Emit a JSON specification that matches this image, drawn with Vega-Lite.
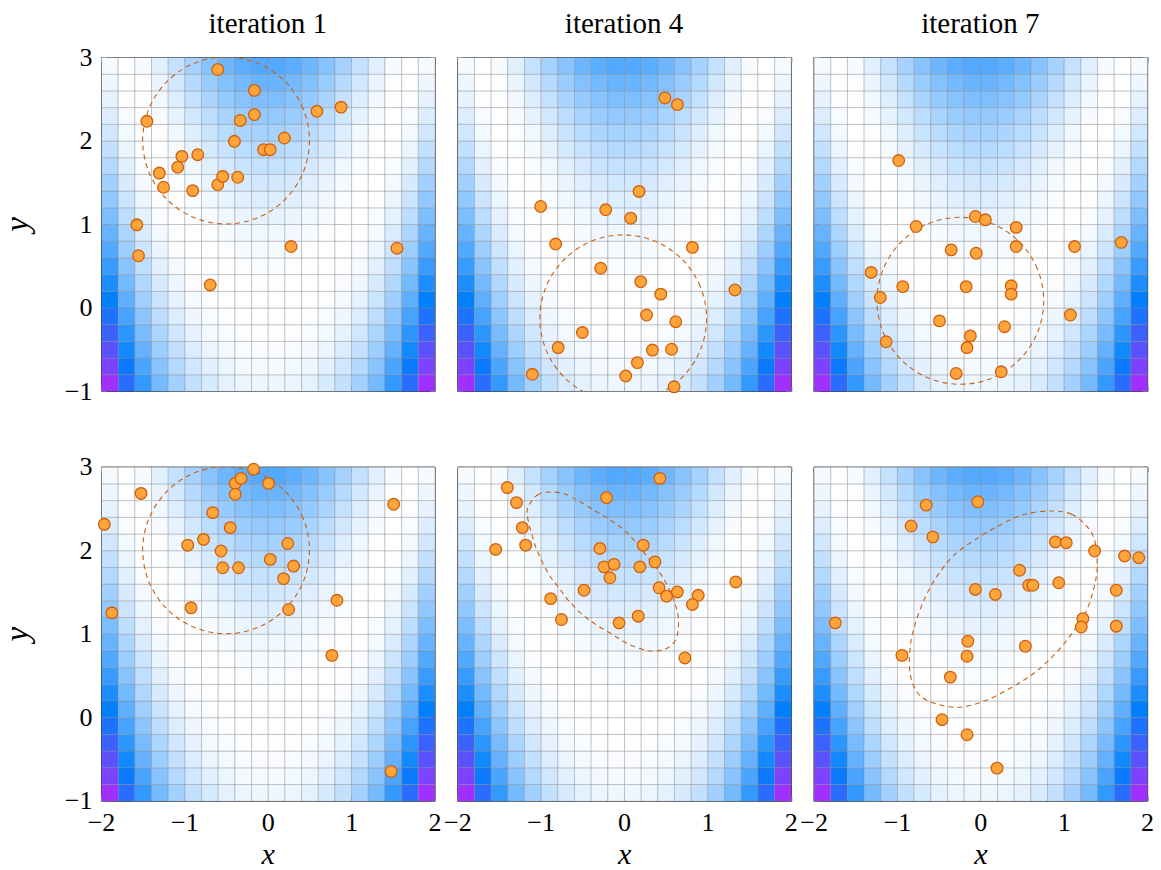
{
"$schema": "https://vega.github.io/schema/vega-lite/v6.json",
"padding": {"left": 0, "top": 9, "right": 5, "bottom": 0},
"datasets": {
"grid": [
{"x":-1.9,"y":-0.9,"v":20.34},{"x":-1.9,"y":-0.7,"v":18.58},{"x":-1.9,"y":-0.5,"v":16.89},{"x":-1.9,"y":-0.3,"v":15.29},{"x":-1.9,"y":-0.1,"v":13.76},{"x":-1.9,"y":0.1,"v":12.32},{"x":-1.9,"y":0.3,"v":10.96},{"x":-1.9,"y":0.5,"v":9.67},{"x":-1.9,"y":0.7,"v":8.47},{"x":-1.9,"y":0.9,"v":7.34},{"x":-1.9,"y":1.1,"v":6.3},{"x":-1.9,"y":1.3,"v":5.34},{"x":-1.9,"y":1.5,"v":4.45},{"x":-1.9,"y":1.7,"v":3.65},{"x":-1.9,"y":1.9,"v":2.92},{"x":-1.9,"y":2.1,"v":2.28},{"x":-1.9,"y":2.3,"v":1.72},{"x":-1.9,"y":2.5,"v":1.23},{"x":-1.9,"y":2.7,"v":0.83},{"x":-1.9,"y":2.9,"v":0.5},
{"x":-1.7,"y":-0.9,"v":14.36},{"x":-1.7,"y":-0.7,"v":12.89},{"x":-1.7,"y":-0.5,"v":11.49},{"x":-1.7,"y":-0.3,"v":10.18},{"x":-1.7,"y":-0.1,"v":8.94},{"x":-1.7,"y":0.1,"v":7.78},{"x":-1.7,"y":0.3,"v":6.71},{"x":-1.7,"y":0.5,"v":5.71},{"x":-1.7,"y":0.7,"v":4.8},{"x":-1.7,"y":0.9,"v":3.96},{"x":-1.7,"y":1.1,"v":3.2},{"x":-1.7,"y":1.3,"v":2.53},{"x":-1.7,"y":1.5,"v":1.93},{"x":-1.7,"y":1.7,"v":1.42},{"x":-1.7,"y":1.9,"v":0.98},{"x":-1.7,"y":2.1,"v":0.62},{"x":-1.7,"y":2.3,"v":0.35},{"x":-1.7,"y":2.5,"v":0.15},{"x":-1.7,"y":2.7,"v":0.04},{"x":-1.7,"y":2.9,"v":0.0},
{"x":-1.5,"y":-0.9,"v":9.92},{"x":-1.5,"y":-0.7,"v":8.7},{"x":-1.5,"y":-0.5,"v":7.56},{"x":-1.5,"y":-0.3,"v":6.5},{"x":-1.5,"y":-0.1,"v":5.52},{"x":-1.5,"y":0.1,"v":4.62},{"x":-1.5,"y":0.3,"v":3.8},{"x":-1.5,"y":0.5,"v":3.06},{"x":-1.5,"y":0.7,"v":2.4},{"x":-1.5,"y":0.9,"v":1.82},{"x":-1.5,"y":1.1,"v":1.32},{"x":-1.5,"y":1.3,"v":0.9},{"x":-1.5,"y":1.5,"v":0.56},{"x":-1.5,"y":1.7,"v":0.3},{"x":-1.5,"y":1.9,"v":0.12},{"x":-1.5,"y":2.1,"v":0.02},{"x":-1.5,"y":2.3,"v":0.0},{"x":-1.5,"y":2.5,"v":0.06},{"x":-1.5,"y":2.7,"v":0.2},{"x":-1.5,"y":2.9,"v":0.42},
{"x":-1.3,"y":-0.9,"v":6.71},{"x":-1.3,"y":-0.7,"v":5.71},{"x":-1.3,"y":-0.5,"v":4.8},{"x":-1.3,"y":-0.3,"v":3.96},{"x":-1.3,"y":-0.1,"v":3.2},{"x":-1.3,"y":0.1,"v":2.53},{"x":-1.3,"y":0.3,"v":1.93},{"x":-1.3,"y":0.5,"v":1.42},{"x":-1.3,"y":0.7,"v":0.98},{"x":-1.3,"y":0.9,"v":0.62},{"x":-1.3,"y":1.1,"v":0.35},{"x":-1.3,"y":1.3,"v":0.15},{"x":-1.3,"y":1.5,"v":0.04},{"x":-1.3,"y":1.7,"v":0.0},{"x":-1.3,"y":1.9,"v":0.04},{"x":-1.3,"y":2.1,"v":0.17},{"x":-1.3,"y":2.3,"v":0.37},{"x":-1.3,"y":2.5,"v":0.66},{"x":-1.3,"y":2.7,"v":1.02},{"x":-1.3,"y":2.9,"v":1.46},
{"x":-1.1,"y":-0.9,"v":4.45},{"x":-1.1,"y":-0.7,"v":3.65},{"x":-1.1,"y":-0.5,"v":2.92},{"x":-1.1,"y":-0.3,"v":2.28},{"x":-1.1,"y":-0.1,"v":1.72},{"x":-1.1,"y":0.1,"v":1.23},{"x":-1.1,"y":0.3,"v":0.83},{"x":-1.1,"y":0.5,"v":0.5},{"x":-1.1,"y":0.7,"v":0.26},{"x":-1.1,"y":0.9,"v":0.1},{"x":-1.1,"y":1.1,"v":0.01},{"x":-1.1,"y":1.3,"v":0.01},{"x":-1.1,"y":1.5,"v":0.08},{"x":-1.1,"y":1.7,"v":0.24},{"x":-1.1,"y":1.9,"v":0.48},{"x":-1.1,"y":2.1,"v":0.79},{"x":-1.1,"y":2.3,"v":1.19},{"x":-1.1,"y":2.5,"v":1.66},{"x":-1.1,"y":2.7,"v":2.22},{"x":-1.1,"y":2.9,"v":2.86},
{"x":-0.9,"y":-0.9,"v":2.92},{"x":-0.9,"y":-0.7,"v":2.28},{"x":-0.9,"y":-0.5,"v":1.72},{"x":-0.9,"y":-0.3,"v":1.23},{"x":-0.9,"y":-0.1,"v":0.83},{"x":-0.9,"y":0.1,"v":0.5},{"x":-0.9,"y":0.3,"v":0.26},{"x":-0.9,"y":0.5,"v":0.1},{"x":-0.9,"y":0.7,"v":0.01},{"x":-0.9,"y":0.9,"v":0.01},{"x":-0.9,"y":1.1,"v":0.08},{"x":-0.9,"y":1.3,"v":0.24},{"x":-0.9,"y":1.5,"v":0.48},{"x":-0.9,"y":1.7,"v":0.79},{"x":-0.9,"y":1.9,"v":1.19},{"x":-0.9,"y":2.1,"v":1.66},{"x":-0.9,"y":2.3,"v":2.22},{"x":-0.9,"y":2.5,"v":2.86},{"x":-0.9,"y":2.7,"v":3.57},{"x":-0.9,"y":2.9,"v":4.37},
{"x":-0.7,"y":-0.9,"v":1.93},{"x":-0.7,"y":-0.7,"v":1.42},{"x":-0.7,"y":-0.5,"v":0.98},{"x":-0.7,"y":-0.3,"v":0.62},{"x":-0.7,"y":-0.1,"v":0.35},{"x":-0.7,"y":0.1,"v":0.15},{"x":-0.7,"y":0.3,"v":0.04},{"x":-0.7,"y":0.5,"v":0.0},{"x":-0.7,"y":0.7,"v":0.04},{"x":-0.7,"y":0.9,"v":0.17},{"x":-0.7,"y":1.1,"v":0.37},{"x":-0.7,"y":1.3,"v":0.66},{"x":-0.7,"y":1.5,"v":1.02},{"x":-0.7,"y":1.7,"v":1.46},{"x":-0.7,"y":1.9,"v":1.99},{"x":-0.7,"y":2.1,"v":2.59},{"x":-0.7,"y":2.3,"v":3.28},{"x":-0.7,"y":2.5,"v":4.04},{"x":-0.7,"y":2.7,"v":4.88},{"x":-0.7,"y":2.9,"v":5.81},
{"x":-0.5,"y":-0.9,"v":1.32},{"x":-0.5,"y":-0.7,"v":0.9},{"x":-0.5,"y":-0.5,"v":0.56},{"x":-0.5,"y":-0.3,"v":0.3},{"x":-0.5,"y":-0.1,"v":0.12},{"x":-0.5,"y":0.1,"v":0.02},{"x":-0.5,"y":0.3,"v":0.0},{"x":-0.5,"y":0.5,"v":0.06},{"x":-0.5,"y":0.7,"v":0.2},{"x":-0.5,"y":0.9,"v":0.42},{"x":-0.5,"y":1.1,"v":0.72},{"x":-0.5,"y":1.3,"v":1.1},{"x":-0.5,"y":1.5,"v":1.56},{"x":-0.5,"y":1.7,"v":2.1},{"x":-0.5,"y":1.9,"v":2.72},{"x":-0.5,"y":2.1,"v":3.42},{"x":-0.5,"y":2.3,"v":4.2},{"x":-0.5,"y":2.5,"v":5.06},{"x":-0.5,"y":2.7,"v":6.0},{"x":-0.5,"y":2.9,"v":7.02},
{"x":-0.3,"y":-0.9,"v":0.98},{"x":-0.3,"y":-0.7,"v":0.62},{"x":-0.3,"y":-0.5,"v":0.35},{"x":-0.3,"y":-0.3,"v":0.15},{"x":-0.3,"y":-0.1,"v":0.04},{"x":-0.3,"y":0.1,"v":0.0},{"x":-0.3,"y":0.3,"v":0.04},{"x":-0.3,"y":0.5,"v":0.17},{"x":-0.3,"y":0.7,"v":0.37},{"x":-0.3,"y":0.9,"v":0.66},{"x":-0.3,"y":1.1,"v":1.02},{"x":-0.3,"y":1.3,"v":1.46},{"x":-0.3,"y":1.5,"v":1.99},{"x":-0.3,"y":1.7,"v":2.59},{"x":-0.3,"y":1.9,"v":3.28},{"x":-0.3,"y":2.1,"v":4.04},{"x":-0.3,"y":2.3,"v":4.88},{"x":-0.3,"y":2.5,"v":5.81},{"x":-0.3,"y":2.7,"v":6.81},{"x":-0.3,"y":2.9,"v":7.9},
{"x":-0.1,"y":-0.9,"v":0.83},{"x":-0.1,"y":-0.7,"v":0.5},{"x":-0.1,"y":-0.5,"v":0.26},{"x":-0.1,"y":-0.3,"v":0.1},{"x":-0.1,"y":-0.1,"v":0.01},{"x":-0.1,"y":0.1,"v":0.01},{"x":-0.1,"y":0.3,"v":0.08},{"x":-0.1,"y":0.5,"v":0.24},{"x":-0.1,"y":0.7,"v":0.48},{"x":-0.1,"y":0.9,"v":0.79},{"x":-0.1,"y":1.1,"v":1.19},{"x":-0.1,"y":1.3,"v":1.66},{"x":-0.1,"y":1.5,"v":2.22},{"x":-0.1,"y":1.7,"v":2.86},{"x":-0.1,"y":1.9,"v":3.57},{"x":-0.1,"y":2.1,"v":4.37},{"x":-0.1,"y":2.3,"v":5.24},{"x":-0.1,"y":2.5,"v":6.2},{"x":-0.1,"y":2.7,"v":7.24},{"x":-0.1,"y":2.9,"v":8.35},
{"x":0.1,"y":-0.9,"v":0.83},{"x":0.1,"y":-0.7,"v":0.5},{"x":0.1,"y":-0.5,"v":0.26},{"x":0.1,"y":-0.3,"v":0.1},{"x":0.1,"y":-0.1,"v":0.01},{"x":0.1,"y":0.1,"v":0.01},{"x":0.1,"y":0.3,"v":0.08},{"x":0.1,"y":0.5,"v":0.24},{"x":0.1,"y":0.7,"v":0.48},{"x":0.1,"y":0.9,"v":0.79},{"x":0.1,"y":1.1,"v":1.19},{"x":0.1,"y":1.3,"v":1.66},{"x":0.1,"y":1.5,"v":2.22},{"x":0.1,"y":1.7,"v":2.86},{"x":0.1,"y":1.9,"v":3.57},{"x":0.1,"y":2.1,"v":4.37},{"x":0.1,"y":2.3,"v":5.24},{"x":0.1,"y":2.5,"v":6.2},{"x":0.1,"y":2.7,"v":7.24},{"x":0.1,"y":2.9,"v":8.35},
{"x":0.3,"y":-0.9,"v":0.98},{"x":0.3,"y":-0.7,"v":0.62},{"x":0.3,"y":-0.5,"v":0.35},{"x":0.3,"y":-0.3,"v":0.15},{"x":0.3,"y":-0.1,"v":0.04},{"x":0.3,"y":0.1,"v":0.0},{"x":0.3,"y":0.3,"v":0.04},{"x":0.3,"y":0.5,"v":0.17},{"x":0.3,"y":0.7,"v":0.37},{"x":0.3,"y":0.9,"v":0.66},{"x":0.3,"y":1.1,"v":1.02},{"x":0.3,"y":1.3,"v":1.46},{"x":0.3,"y":1.5,"v":1.99},{"x":0.3,"y":1.7,"v":2.59},{"x":0.3,"y":1.9,"v":3.28},{"x":0.3,"y":2.1,"v":4.04},{"x":0.3,"y":2.3,"v":4.88},{"x":0.3,"y":2.5,"v":5.81},{"x":0.3,"y":2.7,"v":6.81},{"x":0.3,"y":2.9,"v":7.9},
{"x":0.5,"y":-0.9,"v":1.32},{"x":0.5,"y":-0.7,"v":0.9},{"x":0.5,"y":-0.5,"v":0.56},{"x":0.5,"y":-0.3,"v":0.3},{"x":0.5,"y":-0.1,"v":0.12},{"x":0.5,"y":0.1,"v":0.02},{"x":0.5,"y":0.3,"v":0.0},{"x":0.5,"y":0.5,"v":0.06},{"x":0.5,"y":0.7,"v":0.2},{"x":0.5,"y":0.9,"v":0.42},{"x":0.5,"y":1.1,"v":0.72},{"x":0.5,"y":1.3,"v":1.1},{"x":0.5,"y":1.5,"v":1.56},{"x":0.5,"y":1.7,"v":2.1},{"x":0.5,"y":1.9,"v":2.72},{"x":0.5,"y":2.1,"v":3.42},{"x":0.5,"y":2.3,"v":4.2},{"x":0.5,"y":2.5,"v":5.06},{"x":0.5,"y":2.7,"v":6.0},{"x":0.5,"y":2.9,"v":7.02},
{"x":0.7,"y":-0.9,"v":1.93},{"x":0.7,"y":-0.7,"v":1.42},{"x":0.7,"y":-0.5,"v":0.98},{"x":0.7,"y":-0.3,"v":0.62},{"x":0.7,"y":-0.1,"v":0.35},{"x":0.7,"y":0.1,"v":0.15},{"x":0.7,"y":0.3,"v":0.04},{"x":0.7,"y":0.5,"v":0.0},{"x":0.7,"y":0.7,"v":0.04},{"x":0.7,"y":0.9,"v":0.17},{"x":0.7,"y":1.1,"v":0.37},{"x":0.7,"y":1.3,"v":0.66},{"x":0.7,"y":1.5,"v":1.02},{"x":0.7,"y":1.7,"v":1.46},{"x":0.7,"y":1.9,"v":1.99},{"x":0.7,"y":2.1,"v":2.59},{"x":0.7,"y":2.3,"v":3.28},{"x":0.7,"y":2.5,"v":4.04},{"x":0.7,"y":2.7,"v":4.88},{"x":0.7,"y":2.9,"v":5.81},
{"x":0.9,"y":-0.9,"v":2.92},{"x":0.9,"y":-0.7,"v":2.28},{"x":0.9,"y":-0.5,"v":1.72},{"x":0.9,"y":-0.3,"v":1.23},{"x":0.9,"y":-0.1,"v":0.83},{"x":0.9,"y":0.1,"v":0.5},{"x":0.9,"y":0.3,"v":0.26},{"x":0.9,"y":0.5,"v":0.1},{"x":0.9,"y":0.7,"v":0.01},{"x":0.9,"y":0.9,"v":0.01},{"x":0.9,"y":1.1,"v":0.08},{"x":0.9,"y":1.3,"v":0.24},{"x":0.9,"y":1.5,"v":0.48},{"x":0.9,"y":1.7,"v":0.79},{"x":0.9,"y":1.9,"v":1.19},{"x":0.9,"y":2.1,"v":1.66},{"x":0.9,"y":2.3,"v":2.22},{"x":0.9,"y":2.5,"v":2.86},{"x":0.9,"y":2.7,"v":3.57},{"x":0.9,"y":2.9,"v":4.37},
{"x":1.1,"y":-0.9,"v":4.45},{"x":1.1,"y":-0.7,"v":3.65},{"x":1.1,"y":-0.5,"v":2.92},{"x":1.1,"y":-0.3,"v":2.28},{"x":1.1,"y":-0.1,"v":1.72},{"x":1.1,"y":0.1,"v":1.23},{"x":1.1,"y":0.3,"v":0.83},{"x":1.1,"y":0.5,"v":0.5},{"x":1.1,"y":0.7,"v":0.26},{"x":1.1,"y":0.9,"v":0.1},{"x":1.1,"y":1.1,"v":0.01},{"x":1.1,"y":1.3,"v":0.01},{"x":1.1,"y":1.5,"v":0.08},{"x":1.1,"y":1.7,"v":0.24},{"x":1.1,"y":1.9,"v":0.48},{"x":1.1,"y":2.1,"v":0.79},{"x":1.1,"y":2.3,"v":1.19},{"x":1.1,"y":2.5,"v":1.66},{"x":1.1,"y":2.7,"v":2.22},{"x":1.1,"y":2.9,"v":2.86},
{"x":1.3,"y":-0.9,"v":6.71},{"x":1.3,"y":-0.7,"v":5.71},{"x":1.3,"y":-0.5,"v":4.8},{"x":1.3,"y":-0.3,"v":3.96},{"x":1.3,"y":-0.1,"v":3.2},{"x":1.3,"y":0.1,"v":2.53},{"x":1.3,"y":0.3,"v":1.93},{"x":1.3,"y":0.5,"v":1.42},{"x":1.3,"y":0.7,"v":0.98},{"x":1.3,"y":0.9,"v":0.62},{"x":1.3,"y":1.1,"v":0.35},{"x":1.3,"y":1.3,"v":0.15},{"x":1.3,"y":1.5,"v":0.04},{"x":1.3,"y":1.7,"v":0.0},{"x":1.3,"y":1.9,"v":0.04},{"x":1.3,"y":2.1,"v":0.17},{"x":1.3,"y":2.3,"v":0.37},{"x":1.3,"y":2.5,"v":0.66},{"x":1.3,"y":2.7,"v":1.02},{"x":1.3,"y":2.9,"v":1.46},
{"x":1.5,"y":-0.9,"v":9.92},{"x":1.5,"y":-0.7,"v":8.7},{"x":1.5,"y":-0.5,"v":7.56},{"x":1.5,"y":-0.3,"v":6.5},{"x":1.5,"y":-0.1,"v":5.52},{"x":1.5,"y":0.1,"v":4.62},{"x":1.5,"y":0.3,"v":3.8},{"x":1.5,"y":0.5,"v":3.06},{"x":1.5,"y":0.7,"v":2.4},{"x":1.5,"y":0.9,"v":1.82},{"x":1.5,"y":1.1,"v":1.32},{"x":1.5,"y":1.3,"v":0.9},{"x":1.5,"y":1.5,"v":0.56},{"x":1.5,"y":1.7,"v":0.3},{"x":1.5,"y":1.9,"v":0.12},{"x":1.5,"y":2.1,"v":0.02},{"x":1.5,"y":2.3,"v":0.0},{"x":1.5,"y":2.5,"v":0.06},{"x":1.5,"y":2.7,"v":0.2},{"x":1.5,"y":2.9,"v":0.42},
{"x":1.7,"y":-0.9,"v":14.36},{"x":1.7,"y":-0.7,"v":12.89},{"x":1.7,"y":-0.5,"v":11.49},{"x":1.7,"y":-0.3,"v":10.18},{"x":1.7,"y":-0.1,"v":8.94},{"x":1.7,"y":0.1,"v":7.78},{"x":1.7,"y":0.3,"v":6.71},{"x":1.7,"y":0.5,"v":5.71},{"x":1.7,"y":0.7,"v":4.8},{"x":1.7,"y":0.9,"v":3.96},{"x":1.7,"y":1.1,"v":3.2},{"x":1.7,"y":1.3,"v":2.53},{"x":1.7,"y":1.5,"v":1.93},{"x":1.7,"y":1.7,"v":1.42},{"x":1.7,"y":1.9,"v":0.98},{"x":1.7,"y":2.1,"v":0.62},{"x":1.7,"y":2.3,"v":0.35},{"x":1.7,"y":2.5,"v":0.15},{"x":1.7,"y":2.7,"v":0.04},{"x":1.7,"y":2.9,"v":0.0},
{"x":1.9,"y":-0.9,"v":20.34},{"x":1.9,"y":-0.7,"v":18.58},{"x":1.9,"y":-0.5,"v":16.89},{"x":1.9,"y":-0.3,"v":15.29},{"x":1.9,"y":-0.1,"v":13.76},{"x":1.9,"y":0.1,"v":12.32},{"x":1.9,"y":0.3,"v":10.96},{"x":1.9,"y":0.5,"v":9.67},{"x":1.9,"y":0.7,"v":8.47},{"x":1.9,"y":0.9,"v":7.34},{"x":1.9,"y":1.1,"v":6.3},{"x":1.9,"y":1.3,"v":5.34},{"x":1.9,"y":1.5,"v":4.45},{"x":1.9,"y":1.7,"v":3.65},{"x":1.9,"y":1.9,"v":2.92},{"x":1.9,"y":2.1,"v":2.28},{"x":1.9,"y":2.3,"v":1.72},{"x":1.9,"y":2.5,"v":1.23},{"x":1.9,"y":2.7,"v":0.83},{"x":1.9,"y":2.9,"v":0.5}
],
"p1": [{"x":-0.6,"y":2.85},{"x":-0.16,"y":2.6},{"x":0.59,"y":2.35},{"x":0.88,"y":2.4},{"x":-1.45,"y":2.23},{"x":-0.33,"y":2.24},{"x":-0.16,"y":2.31},{"x":-0.4,"y":1.99},{"x":0.2,"y":2.03},{"x":-0.05,"y":1.89},{"x":0.03,"y":1.89},{"x":-1.03,"y":1.81},{"x":-0.84,"y":1.83},{"x":-1.08,"y":1.68},{"x":-1.3,"y":1.61},{"x":-1.25,"y":1.44},{"x":-0.9,"y":1.4},{"x":-0.6,"y":1.47},{"x":-0.54,"y":1.57},{"x":-0.36,"y":1.56},{"x":-1.57,"y":0.99},{"x":-1.55,"y":0.62},{"x":0.28,"y":0.73},{"x":1.55,"y":0.71},{"x":-0.69,"y":0.27}],
"p2": [{"x":0.49,"y":2.51},{"x":0.64,"y":2.43},{"x":0.18,"y":1.39},{"x":-1.0,"y":1.21},{"x":-0.22,"y":1.17},{"x":0.08,"y":1.07},{"x":-0.82,"y":0.76},{"x":0.82,"y":0.72},{"x":-0.28,"y":0.47},{"x":0.2,"y":0.31},{"x":0.44,"y":0.16},{"x":1.33,"y":0.21},{"x":0.27,"y":-0.09},{"x":0.62,"y":-0.17},{"x":-0.5,"y":-0.3},{"x":-0.79,"y":-0.48},{"x":0.34,"y":-0.51},{"x":0.57,"y":-0.5},{"x":0.16,"y":-0.66},{"x":-1.1,"y":-0.8},{"x":0.02,"y":-0.82},{"x":0.6,"y":-0.95}],
"p3": [{"x":-0.98,"y":1.76},{"x":-0.06,"y":1.09},{"x":0.06,"y":1.05},{"x":0.43,"y":0.96},{"x":-0.77,"y":0.97},{"x":0.43,"y":0.73},{"x":1.13,"y":0.73},{"x":1.69,"y":0.78},{"x":-0.35,"y":0.69},{"x":-0.05,"y":0.65},{"x":-1.31,"y":0.42},{"x":-0.93,"y":0.25},{"x":-0.17,"y":0.25},{"x":0.37,"y":0.26},{"x":0.37,"y":0.16},{"x":-1.2,"y":0.12},{"x":1.08,"y":-0.09},{"x":-0.49,"y":-0.16},{"x":0.29,"y":-0.23},{"x":-0.12,"y":-0.34},{"x":-0.16,"y":-0.48},{"x":-1.13,"y":-0.41},{"x":-0.29,"y":-0.79},{"x":0.25,"y":-0.77}],
"p4": [{"x":-0.17,"y":2.97},{"x":-0.39,"y":2.8},{"x":-0.32,"y":2.86},{"x":0.01,"y":2.8},{"x":-0.39,"y":2.67},{"x":-1.52,"y":2.68},{"x":1.51,"y":2.55},{"x":-1.96,"y":2.31},{"x":-0.66,"y":2.45},{"x":-0.45,"y":2.27},{"x":-0.77,"y":2.13},{"x":-0.96,"y":2.06},{"x":-0.56,"y":1.99},{"x":0.24,"y":2.08},{"x":0.03,"y":1.89},{"x":0.31,"y":1.81},{"x":-0.54,"y":1.79},{"x":-0.35,"y":1.79},{"x":0.19,"y":1.66},{"x":-1.87,"y":1.25},{"x":-0.92,"y":1.31},{"x":0.25,"y":1.29},{"x":0.83,"y":1.4},{"x":0.77,"y":0.74},{"x":1.48,"y":-0.65}],
"p5": [{"x":0.43,"y":2.86},{"x":-1.4,"y":2.75},{"x":-1.29,"y":2.57},{"x":-0.21,"y":2.63},{"x":-1.22,"y":2.27},{"x":-1.54,"y":2.01},{"x":-1.18,"y":2.06},{"x":-0.29,"y":2.02},{"x":0.23,"y":2.06},{"x":0.37,"y":1.86},{"x":-0.24,"y":1.8},{"x":-0.12,"y":1.83},{"x":0.19,"y":1.8},{"x":-0.17,"y":1.67},{"x":1.34,"y":1.62},{"x":-0.48,"y":1.52},{"x":-0.88,"y":1.42},{"x":0.42,"y":1.55},{"x":0.51,"y":1.45},{"x":0.64,"y":1.5},{"x":0.89,"y":1.46},{"x":0.82,"y":1.35},{"x":-0.75,"y":1.17},{"x":-0.06,"y":1.13},{"x":0.17,"y":1.21},{"x":0.73,"y":0.71}],
"p6": [{"x":-0.65,"y":2.54},{"x":-0.03,"y":2.58},{"x":-0.83,"y":2.29},{"x":-0.57,"y":2.16},{"x":0.9,"y":2.1},{"x":1.03,"y":2.09},{"x":1.37,"y":1.99},{"x":1.73,"y":1.93},{"x":1.9,"y":1.91},{"x":0.47,"y":1.76},{"x":0.58,"y":1.58},{"x":0.63,"y":1.58},{"x":0.94,"y":1.61},{"x":1.63,"y":1.52},{"x":-0.06,"y":1.53},{"x":0.18,"y":1.47},{"x":-1.74,"y":1.13},{"x":1.23,"y":1.18},{"x":1.21,"y":1.08},{"x":1.63,"y":1.09},{"x":-0.15,"y":0.91},{"x":-0.94,"y":0.74},{"x":-0.16,"y":0.73},{"x":0.54,"y":0.85},{"x":-0.36,"y":0.48},{"x":-0.46,"y":-0.03},{"x":-0.16,"y":-0.21},{"x":0.2,"y":-0.61}],
"e1": [{"i":0,"x":0.5,"y":2},{"i":1,"x":0.424,"y":2.383},{"i":2,"x":0.207,"y":2.707},{"i":3,"x":-0.117,"y":2.924},{"i":4,"x":-0.5,"y":3},{"i":5,"x":-0.883,"y":2.924},{"i":6,"x":-1.207,"y":2.707},{"i":7,"x":-1.424,"y":2.383},{"i":8,"x":-1.5,"y":2},{"i":9,"x":-1.424,"y":1.617},{"i":10,"x":-1.207,"y":1.293},{"i":11,"x":-0.883,"y":1.076},{"i":12,"x":-0.5,"y":1},{"i":13,"x":-0.117,"y":1.076},{"i":14,"x":0.207,"y":1.293},{"i":15,"x":0.424,"y":1.617}],
"e2": [{"i":0,"x":0.99,"y":-0.13},{"i":1,"x":0.914,"y":0.253},{"i":2,"x":0.697,"y":0.577},{"i":3,"x":0.373,"y":0.794},{"i":4,"x":-0.01,"y":0.87},{"i":5,"x":-0.393,"y":0.794},{"i":6,"x":-0.717,"y":0.577},{"i":7,"x":-0.934,"y":0.253},{"i":8,"x":-1.01,"y":-0.13},{"i":9,"x":-0.934,"y":-0.513},{"i":10,"x":-0.717,"y":-0.837},{"i":11,"x":-0.393,"y":-1.054},{"i":12,"x":-0.01,"y":-1.13},{"i":13,"x":0.373,"y":-1.054},{"i":14,"x":0.697,"y":-0.837},{"i":15,"x":0.914,"y":-0.513}],
"e3": [{"i":0,"x":0.76,"y":0.08},{"i":1,"x":0.684,"y":0.463},{"i":2,"x":0.467,"y":0.787},{"i":3,"x":0.143,"y":1.004},{"i":4,"x":-0.24,"y":1.08},{"i":5,"x":-0.623,"y":1.004},{"i":6,"x":-0.947,"y":0.787},{"i":7,"x":-1.164,"y":0.463},{"i":8,"x":-1.24,"y":0.08},{"i":9,"x":-1.164,"y":-0.303},{"i":10,"x":-0.947,"y":-0.627},{"i":11,"x":-0.623,"y":-0.844},{"i":12,"x":-0.24,"y":-0.92},{"i":13,"x":0.143,"y":-0.844},{"i":14,"x":0.467,"y":-0.627},{"i":15,"x":0.684,"y":-0.303}],
"e5": [{"i":0,"x":-0.876,"y":2.697},{"i":1,"x":-1.023,"y":2.67},{"i":2,"x":-1.122,"y":2.569},{"i":3,"x":-1.163,"y":2.431},{"i":4,"x":-1.083,"y":2.111},{"i":5,"x":-1.023,"y":1.952},{"i":6,"x":-0.903,"y":1.713},{"i":7,"x":-0.783,"y":1.553},{"i":8,"x":-0.664,"y":1.394},{"i":9,"x":-0.505,"y":1.234},{"i":10,"x":-0.345,"y":1.115},{"i":11,"x":-0.146,"y":0.995},{"i":12,"x":0.054,"y":0.876},{"i":13,"x":0.293,"y":0.795},{"i":14,"x":0.493,"y":0.816},{"i":15,"x":0.612,"y":0.915},{"i":16,"x":0.652,"y":1.074},{"i":17,"x":0.644,"y":1.234},{"i":18,"x":0.612,"y":1.354},{"i":19,"x":0.532,"y":1.553},{"i":20,"x":0.413,"y":1.752},{"i":21,"x":0.254,"y":1.952},{"i":22,"x":0.054,"y":2.191},{"i":23,"x":-0.146,"y":2.35},{"i":24,"x":-0.345,"y":2.47},{"i":25,"x":-0.544,"y":2.59},{"i":26,"x":-0.703,"y":2.67}],
"e6": [{"i":0,"x":0.854,"y":2.47},{"i":1,"x":1.093,"y":2.431},{"i":2,"x":1.273,"y":2.291},{"i":3,"x":1.373,"y":2.111},{"i":4,"x":1.401,"y":1.792},{"i":5,"x":1.353,"y":1.513},{"i":6,"x":1.253,"y":1.234},{"i":7,"x":1.093,"y":0.995},{"i":8,"x":0.894,"y":0.756},{"i":9,"x":0.655,"y":0.536},{"i":10,"x":0.375,"y":0.356},{"i":11,"x":0.056,"y":0.197},{"i":12,"x":-0.263,"y":0.117},{"i":13,"x":-0.543,"y":0.165},{"i":14,"x":-0.743,"y":0.278},{"i":15,"x":-0.842,"y":0.517},{"i":16,"x":-0.842,"y":0.835},{"i":17,"x":-0.782,"y":1.115},{"i":18,"x":-0.662,"y":1.433},{"i":19,"x":-0.503,"y":1.713},{"i":20,"x":-0.303,"y":1.952},{"i":21,"x":-0.024,"y":2.151},{"i":22,"x":0.255,"y":2.311},{"i":23,"x":0.535,"y":2.431}]
},
"columns": 3,
"spacing": {"row": 75.7, "column": 22.3},
"bounds": "flush",
"concat": [
{"width": 333.5, "height": 334, "title": {"text": "iteration 1", "offset": 5}, "resolve": {"axis": {"x": "independent", "y": "independent"}},
 "layer": [
  {"data": {"name": "grid"}, "mark": {"type": "rect", "stroke": "#808080", "strokeOpacity": 0.35, "strokeWidth": 1},
   "encoding": {
    "x": {"field": "x", "type": "quantitative", "bin": {"step": 0.2, "extent": [-2, 2]}, "scale": {"domain": [-2, 2], "nice": false}, "axis": {"orient": "bottom", "values": [-2, -1, 0, 1, 2], "labels": false, "title": null}},
    "y": {"field": "y", "type": "quantitative", "bin": {"step": 0.2, "extent": [-1, 3]}, "scale": {"domain": [-1, 3], "nice": false}, "axis": {"orient": "left", "values": [-1, 0, 1, 2, 3], "format": "d", "title": "y"}},
    "color": {"field": "v", "type": "quantitative", "scale": {"domain": [0, 12.32, 20.34], "range": ["#ffffff", "#0080ff", "#a030ff"], "interpolate": "rgb"}, "legend": null}}},
  {"data": {"name": "e1"}, "mark": {"type": "line", "interpolate": "cardinal-closed", "color": "#c8600e", "strokeWidth": 1.1, "strokeDash": [5, 4], "clip": true},
   "encoding": {"x": {"field": "x", "type": "quantitative", "scale": {"domain": [-2, 2], "nice": false}, "axis": null}, "y": {"field": "y", "type": "quantitative", "scale": {"domain": [-1, 3], "nice": false}, "axis": null}, "order": {"field": "i", "type": "quantitative"}}},
  {"data": {"name": "p1"}, "mark": {"type": "point", "shape": "circle", "filled": true, "fill": "#ffa53c", "stroke": "#d0600c", "strokeWidth": 1.3, "size": 135, "opacity": 1},
   "encoding": {"x": {"field": "x", "type": "quantitative", "scale": {"domain": [-2, 2], "nice": false}, "axis": {"orient": "top", "values": [-2, -1, 0, 1, 2], "labels": false, "title": null}}, "y": {"field": "y", "type": "quantitative", "scale": {"domain": [-1, 3], "nice": false}, "axis": {"orient": "right", "values": [-1, 0, 1, 2, 3], "labels": false, "title": null}}}}
 ]},
{"width": 333.5, "height": 334, "title": "iteration 4", "resolve": {"axis": {"x": "independent", "y": "independent"}},
 "layer": [
  {"data": {"name": "grid"}, "mark": {"type": "rect", "stroke": "#808080", "strokeOpacity": 0.35, "strokeWidth": 1},
   "encoding": {
    "x": {"field": "x", "type": "quantitative", "bin": {"step": 0.2, "extent": [-2, 2]}, "scale": {"domain": [-2, 2], "nice": false}, "axis": {"orient": "bottom", "values": [-2, -1, 0, 1, 2], "labels": false, "title": null}},
    "y": {"field": "y", "type": "quantitative", "bin": {"step": 0.2, "extent": [-1, 3]}, "scale": {"domain": [-1, 3], "nice": false}, "axis": {"orient": "left", "values": [-1, 0, 1, 2, 3], "labels": false, "title": null}},
    "color": {"field": "v", "type": "quantitative", "scale": {"domain": [0, 12.32, 20.34], "range": ["#ffffff", "#0080ff", "#a030ff"], "interpolate": "rgb"}, "legend": null}}},
  {"data": {"name": "e2"}, "mark": {"type": "line", "interpolate": "cardinal-closed", "color": "#c8600e", "strokeWidth": 1.1, "strokeDash": [5, 4], "clip": true},
   "encoding": {"x": {"field": "x", "type": "quantitative", "scale": {"domain": [-2, 2], "nice": false}, "axis": null}, "y": {"field": "y", "type": "quantitative", "scale": {"domain": [-1, 3], "nice": false}, "axis": null}, "order": {"field": "i", "type": "quantitative"}}},
  {"data": {"name": "p2"}, "mark": {"type": "point", "shape": "circle", "filled": true, "fill": "#ffa53c", "stroke": "#d0600c", "strokeWidth": 1.3, "size": 135, "opacity": 1},
   "encoding": {"x": {"field": "x", "type": "quantitative", "scale": {"domain": [-2, 2], "nice": false}, "axis": {"orient": "top", "values": [-2, -1, 0, 1, 2], "labels": false, "title": null}}, "y": {"field": "y", "type": "quantitative", "scale": {"domain": [-1, 3], "nice": false}, "axis": {"orient": "right", "values": [-1, 0, 1, 2, 3], "labels": false, "title": null}}}}
 ]},
{"width": 333.5, "height": 334, "title": "iteration 7", "resolve": {"axis": {"x": "independent", "y": "independent"}},
 "layer": [
  {"data": {"name": "grid"}, "mark": {"type": "rect", "stroke": "#808080", "strokeOpacity": 0.35, "strokeWidth": 1},
   "encoding": {
    "x": {"field": "x", "type": "quantitative", "bin": {"step": 0.2, "extent": [-2, 2]}, "scale": {"domain": [-2, 2], "nice": false}, "axis": {"orient": "bottom", "values": [-2, -1, 0, 1, 2], "labels": false, "title": null}},
    "y": {"field": "y", "type": "quantitative", "bin": {"step": 0.2, "extent": [-1, 3]}, "scale": {"domain": [-1, 3], "nice": false}, "axis": {"orient": "left", "values": [-1, 0, 1, 2, 3], "labels": false, "title": null}},
    "color": {"field": "v", "type": "quantitative", "scale": {"domain": [0, 12.32, 20.34], "range": ["#ffffff", "#0080ff", "#a030ff"], "interpolate": "rgb"}, "legend": null}}},
  {"data": {"name": "e3"}, "mark": {"type": "line", "interpolate": "cardinal-closed", "color": "#c8600e", "strokeWidth": 1.1, "strokeDash": [5, 4], "clip": true},
   "encoding": {"x": {"field": "x", "type": "quantitative", "scale": {"domain": [-2, 2], "nice": false}, "axis": null}, "y": {"field": "y", "type": "quantitative", "scale": {"domain": [-1, 3], "nice": false}, "axis": null}, "order": {"field": "i", "type": "quantitative"}}},
  {"data": {"name": "p3"}, "mark": {"type": "point", "shape": "circle", "filled": true, "fill": "#ffa53c", "stroke": "#d0600c", "strokeWidth": 1.3, "size": 135, "opacity": 1},
   "encoding": {"x": {"field": "x", "type": "quantitative", "scale": {"domain": [-2, 2], "nice": false}, "axis": {"orient": "top", "values": [-2, -1, 0, 1, 2], "labels": false, "title": null}}, "y": {"field": "y", "type": "quantitative", "scale": {"domain": [-1, 3], "nice": false}, "axis": {"orient": "right", "values": [-1, 0, 1, 2, 3], "labels": false, "title": null}}}}
 ]},
{"width": 333.5, "height": 334, "resolve": {"axis": {"x": "independent", "y": "independent"}},
 "layer": [
  {"data": {"name": "grid"}, "mark": {"type": "rect", "stroke": "#808080", "strokeOpacity": 0.35, "strokeWidth": 1},
   "encoding": {
    "x": {"field": "x", "type": "quantitative", "bin": {"step": 0.2, "extent": [-2, 2]}, "scale": {"domain": [-2, 2], "nice": false}, "axis": {"orient": "bottom", "values": [-2, -1, 0, 1, 2], "format": "d", "title": "x"}},
    "y": {"field": "y", "type": "quantitative", "bin": {"step": 0.2, "extent": [-1, 3]}, "scale": {"domain": [-1, 3], "nice": false}, "axis": {"orient": "left", "values": [-1, 0, 1, 2, 3], "format": "d", "title": "y"}},
    "color": {"field": "v", "type": "quantitative", "scale": {"domain": [0, 12.32, 20.34], "range": ["#ffffff", "#0080ff", "#a030ff"], "interpolate": "rgb"}, "legend": null}}},
  {"data": {"name": "e1"}, "mark": {"type": "line", "interpolate": "cardinal-closed", "color": "#c8600e", "strokeWidth": 1.1, "strokeDash": [5, 4], "clip": true},
   "encoding": {"x": {"field": "x", "type": "quantitative", "scale": {"domain": [-2, 2], "nice": false}, "axis": null}, "y": {"field": "y", "type": "quantitative", "scale": {"domain": [-1, 3], "nice": false}, "axis": null}, "order": {"field": "i", "type": "quantitative"}}},
  {"data": {"name": "p4"}, "mark": {"type": "point", "shape": "circle", "filled": true, "fill": "#ffa53c", "stroke": "#d0600c", "strokeWidth": 1.3, "size": 135, "opacity": 1},
   "encoding": {"x": {"field": "x", "type": "quantitative", "scale": {"domain": [-2, 2], "nice": false}, "axis": {"orient": "top", "values": [-2, -1, 0, 1, 2], "labels": false, "title": null}}, "y": {"field": "y", "type": "quantitative", "scale": {"domain": [-1, 3], "nice": false}, "axis": {"orient": "right", "values": [-1, 0, 1, 2, 3], "labels": false, "title": null}}}}
 ]},
{"width": 333.5, "height": 334, "resolve": {"axis": {"x": "independent", "y": "independent"}},
 "layer": [
  {"data": {"name": "grid"}, "mark": {"type": "rect", "stroke": "#808080", "strokeOpacity": 0.35, "strokeWidth": 1},
   "encoding": {
    "x": {"field": "x", "type": "quantitative", "bin": {"step": 0.2, "extent": [-2, 2]}, "scale": {"domain": [-2, 2], "nice": false}, "axis": {"orient": "bottom", "values": [-2, -1, 0, 1, 2], "format": "d", "title": "x"}},
    "y": {"field": "y", "type": "quantitative", "bin": {"step": 0.2, "extent": [-1, 3]}, "scale": {"domain": [-1, 3], "nice": false}, "axis": {"orient": "left", "values": [-1, 0, 1, 2, 3], "labels": false, "title": null}},
    "color": {"field": "v", "type": "quantitative", "scale": {"domain": [0, 12.32, 20.34], "range": ["#ffffff", "#0080ff", "#a030ff"], "interpolate": "rgb"}, "legend": null}}},
  {"data": {"name": "e5"}, "mark": {"type": "line", "interpolate": "cardinal-closed", "color": "#c8600e", "strokeWidth": 1.1, "strokeDash": [5, 4], "clip": true},
   "encoding": {"x": {"field": "x", "type": "quantitative", "scale": {"domain": [-2, 2], "nice": false}, "axis": null}, "y": {"field": "y", "type": "quantitative", "scale": {"domain": [-1, 3], "nice": false}, "axis": null}, "order": {"field": "i", "type": "quantitative"}}},
  {"data": {"name": "p5"}, "mark": {"type": "point", "shape": "circle", "filled": true, "fill": "#ffa53c", "stroke": "#d0600c", "strokeWidth": 1.3, "size": 135, "opacity": 1},
   "encoding": {"x": {"field": "x", "type": "quantitative", "scale": {"domain": [-2, 2], "nice": false}, "axis": {"orient": "top", "values": [-2, -1, 0, 1, 2], "labels": false, "title": null}}, "y": {"field": "y", "type": "quantitative", "scale": {"domain": [-1, 3], "nice": false}, "axis": {"orient": "right", "values": [-1, 0, 1, 2, 3], "labels": false, "title": null}}}}
 ]},
{"width": 333.5, "height": 334, "resolve": {"axis": {"x": "independent", "y": "independent"}},
 "layer": [
  {"data": {"name": "grid"}, "mark": {"type": "rect", "stroke": "#808080", "strokeOpacity": 0.35, "strokeWidth": 1},
   "encoding": {
    "x": {"field": "x", "type": "quantitative", "bin": {"step": 0.2, "extent": [-2, 2]}, "scale": {"domain": [-2, 2], "nice": false}, "axis": {"orient": "bottom", "values": [-2, -1, 0, 1, 2], "format": "d", "title": "x"}},
    "y": {"field": "y", "type": "quantitative", "bin": {"step": 0.2, "extent": [-1, 3]}, "scale": {"domain": [-1, 3], "nice": false}, "axis": {"orient": "left", "values": [-1, 0, 1, 2, 3], "labels": false, "title": null}},
    "color": {"field": "v", "type": "quantitative", "scale": {"domain": [0, 12.32, 20.34], "range": ["#ffffff", "#0080ff", "#a030ff"], "interpolate": "rgb"}, "legend": null}}},
  {"data": {"name": "e6"}, "mark": {"type": "line", "interpolate": "cardinal-closed", "color": "#c8600e", "strokeWidth": 1.1, "strokeDash": [5, 4], "clip": true},
   "encoding": {"x": {"field": "x", "type": "quantitative", "scale": {"domain": [-2, 2], "nice": false}, "axis": null}, "y": {"field": "y", "type": "quantitative", "scale": {"domain": [-1, 3], "nice": false}, "axis": null}, "order": {"field": "i", "type": "quantitative"}}},
  {"data": {"name": "p6"}, "mark": {"type": "point", "shape": "circle", "filled": true, "fill": "#ffa53c", "stroke": "#d0600c", "strokeWidth": 1.3, "size": 135, "opacity": 1},
   "encoding": {"x": {"field": "x", "type": "quantitative", "scale": {"domain": [-2, 2], "nice": false}, "axis": {"orient": "top", "values": [-2, -1, 0, 1, 2], "labels": false, "title": null}}, "y": {"field": "y", "type": "quantitative", "scale": {"domain": [-1, 3], "nice": false}, "axis": {"orient": "right", "values": [-1, 0, 1, 2, 3], "labels": false, "title": null}}}}
 ]}
],
"config": {
 "view": {"stroke": "#000000", "strokeWidth": 1},
 "font": "Liberation Serif",
 "axis": {"domain": false, "grid": false, "tickColor": "#777777", "tickWidth": 1, "tickSize": -5, "labelFont": "Liberation Serif", "labelFontSize": 26, "labelColor": "#000000", "labelFlush": false, "labelOverlap": false, "labelPadding": 14, "titleFont": "Liberation Serif", "titleFontSize": 30, "titleFontStyle": "italic", "titleFontWeight": "normal", "titleColor": "#000000", "titlePadding": 4, "zindex": 1},
 "axisY": {"titlePadding": 30, "titleFontSize": 33},
 "title": {"font": "Liberation Serif", "fontSize": 29, "fontWeight": "normal", "color": "#000000", "frame": "group", "offset": 18}
}
}
